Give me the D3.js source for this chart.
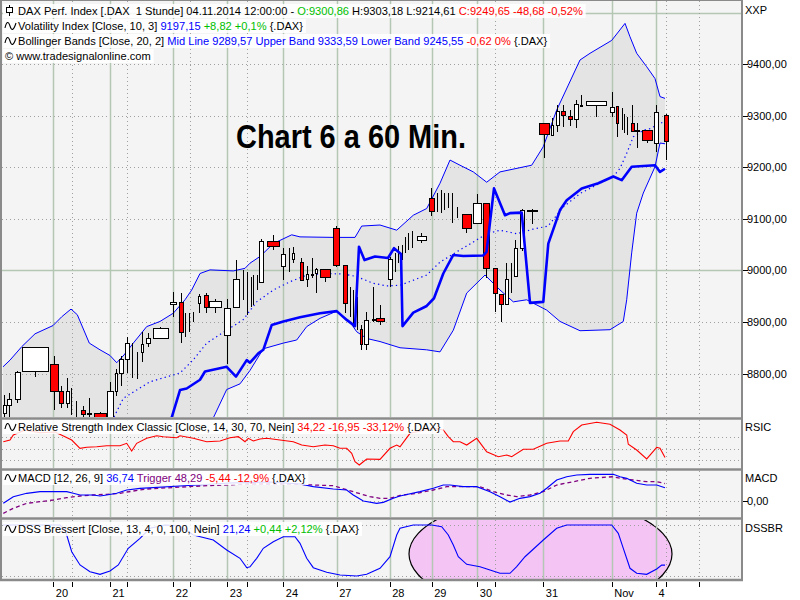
<!DOCTYPE html>
<html><head><meta charset="utf-8">
<script src="https://cdn.jsdelivr.net/npm/d3@7"></script>
<style>body{margin:0;background:#fff}svg{display:block}text{font-family:"Liberation Sans",Arial,sans-serif}</style>
</head><body><svg id="c" width="800" height="600"></svg>
<script>
// ---------- DATA ----------
// candles: [t, open, high, low, close, bodyWidth(t units)]
const candles = [
[0.8,8724,8759,8712,8739,0.6],[1.86,8739,8762,8716,8751,0.8],[3.46,8751,8805,8743,8803,1.0],[6.9,8805,8852,8793,8852,5.2],
[10.76,8819,8834,8729,8766,1.6],[12.26,8766,8776,8733,8743,0.8],[13.3,8743,8791,8733,8766,0.6],[14.2,8745,8772,8720,8745,0],
[15.2,8730,8747,8712,8730,0],[16.66,8729,8737,8712,8722,0.8],[17.8,8724,8753,8716,8724,0.8],[19.94,8724,8726,8712,8716,2.4],
[22.06,8712,8784,8712,8766,1.2],[23.26,8766,8809,8757,8801,0.4],[24.26,8801,8834,8776,8828,0.8],[25.46,8828,8871,8801,8859,0.8],
[26.46,8825,8859,8791,8825,0],[27.34,8815,8842,8789,8815,0],[28.34,8842,8881,8822,8857,0.4],[29.5,8859,8879,8852,8869,0.8],
[31.9,8869,8890,8867,8888,3.0],[34.64,8935,8958,8910,8939,1.2],[36.1,8939,8956,8859,8881,0.8],[37.06,8895,8917,8871,8895,0],
[37.8,8900,8917,8881,8900,0],[38.54,8910,8919,8900,8910,0],[39.86,8937,8954,8917,8950,0.4],[41.1,8952,8956,8917,8929,0.8],
[43.06,8929,8945,8917,8941,2.4],[45.46,8875,8945,8819,8927,1.2],[47.24,8929,9020,8929,8983,1.2],[48.54,8970,9001,8943,8970,0],
[49.34,8955,8997,8914,8955,0],[50.14,8958,8987,8929,8958,0],[50.66,8962,8991,8933,8962,0],[51.34,8976,8991,8962,8976,0],
[52.26,8977,9060,8977,9057,0.8],[54.5,9057,9069,9040,9047,2.4],[56.66,9008,9043,8981,9032,0.8],[57.86,9020,9043,8997,9020,0],
[58.66,9022,9045,9014,9034,0.4],[60.26,9016,9024,8981,8981,0.6],[61.3,8983,9008,8968,8993,0.4],[62.34,8993,9024,8985,8993,0.4],
[63.3,8995,9005,8956,9003,0.4],[65.1,9003,9003,8977,8987,2.0],[67.24,9082,9086,9007,9010,1.2],[68.9,9010,9010,8917,8937,0.8],
[70.0,8940,8968,8910,8940,0],[70.66,8925,8962,8890,8925,0],[71.34,8915,8948,8885,8915,0],[72.1,8886,8894,8846,8857,0.4],
[73.24,8857,8919,8846,8904,0.8],[74.54,8906,8968,8900,8906,0.6],[76.1,8908,8933,8894,8902,1.6],[77.9,8983,9026,8968,9022,0.8],
[79.0,9015,9034,8997,9015,0],[79.66,9030,9047,9014,9030,0],[80.34,9035,9049,9020,9035,0],[81.0,9050,9065,9034,9050,0],
[81.66,9056,9072,9040,9056,0],[82.34,9060,9076,9043,9060,0],[84.26,9059,9072,9053,9067,1.8],[86.26,9140,9160,9105,9115,1.0],
[87.46,9131,9150,9113,9131,0],[88.2,9133,9156,9111,9133,0],[88.86,9133,9150,9117,9133,0],[89.66,9135,9150,9121,9135,0],
[90.46,9121,9150,9092,9121,0],[91.46,9112,9123,9101,9112,0],[93.26,9109,9109,9072,9082,1.8],[95.44,9092,9148,9092,9131,1.6],
[97.26,9131,9131,8985,9005,1.2],[98.94,9005,9005,8919,8956,0.8],[100.26,8954,8954,8900,8935,0.8],[101.26,8935,9014,8935,8983,0.6],
[102.14,8985,9014,8956,8985,0],[103.06,8989,9059,8989,9043,0.6],[104.36,9043,9119,9038,9117,0.8],[106.3,9117,9119,9090,9118,2.0],
[108.74,9286,9286,9218,9264,2.0],[110.44,9262,9295,9262,9282,0.4],[111.44,9282,9321,9268,9309,0.6],[112.64,9309,9321,9278,9301,0.8],
[113.9,9299,9311,9280,9293,0.8],[115.14,9293,9330,9276,9322,0.8],[116.14,9320,9340,9319,9321,0.4],[119.26,9321,9328,9297,9328,4.0],
[122.3,9307,9346,9297,9317,0.8],[123.3,9319,9319,9258,9286,0.4],[124.34,9290,9315,9272,9290,0],[124.86,9285,9303,9266,9285,0],
[125.34,9280,9297,9262,9280,0],[126.46,9286,9321,9270,9270,0.6],[127.44,9272,9286,9237,9271,0.8],[129.3,9272,9272,9247,9253,2.0],
[131.1,9247,9321,9229,9307,0.8],[133.1,9300.86,9303.18,9214.61,9249.65,0.8]
];
// Volatility Index [Close,10,3]
const volIndex = [
[33.6,8691],[36,8768],[37.34,8771],[40,8788],[41,8804],[45.34,8813],[47.2,8794],[49.34,8826],[50,8821],[51.66,8839],[52.66,8846],
[54.34,8894],[56.66,8901],[60,8909],[64,8917],[67.34,8921],[69.34,8904],[71,8892],[71.8,9046],[72.9,9020],[75,9027],[77.6,9024],
[78.8,9043],[80.2,9032],[80.5,8892],[82.66,8918],[85.34,8931],[86.8,8946],[88.66,8994],[90.66,9030],[92.66,9028],[96.66,9029],
[97.3,9036],[98.8,9159],[101,9107],[102,9111],[104.34,9112],[106,8937],[108.66,8939],[109.66,9052],[112,9117],[113.34,9136],
[116.34,9159],[119.66,9169],[122.66,9182],[124.34,9175],[126.34,9201],[131,9204],[132,9191],[133,9197.15]
];
// Bollinger Bands [Close,20,2]
const upperBand = [
[0.6,8813],[2,8826],[4.34,8852],[7,8877],[10.6,8893],[12.34,8910],[14.2,8925],[15.46,8914],[17.86,8859],[20,8846],[22,8835],
[23.34,8821],[24.8,8836],[26.66,8859],[29.34,8891],[32,8901],[34.66,8917],[37,8943],[38.34,8962],[40,8994],[42,9001],[46.66,8999],
[49,9004],[50,9014],[52,9027],[54.66,9052],[58.34,9069],[60,9065],[66.66,9064],[71,9064],[72.34,9086],[76,9088],[79.34,9078],
[82.66,9107],[85.34,9120],[88,9169],[90,9214],[92,9204],[94.66,9191],[97.34,9171],[100,9191],[106.34,9204],[108.66,9240],
[111.34,9311],[116,9408],[118,9421],[122.34,9446],[125,9479],[126,9453],[127.34,9421],[129.34,9395],[131,9372],[132,9337],[133,9333.59]
];
const lowerBand = [
[0.6,8560],[20,8560],[30,8600],[40,8650],[42.66,8714],[45.34,8769],[48,8780],[50,8806],[52.66,8848],[56.66,8859],[59.34,8865],
[61.34,8891],[64,8907],[67.34,8921],[70,8900],[71.34,8881],[73.34,8868],[76,8862],[80,8850],[85.34,8846],[88,8842],[90.66,8884],
[93.34,8956],[97,8991],[100,8962],[102.66,8939],[105.34,8943],[109.34,8923],[112,8901],[116,8883],[122,8885],[124.66,8901],
[125.34,8943],[126.34,9034],[127.34,9111],[128.66,9150],[131,9201],[132,9247],[133,9245.55]
];
const midLine = [
[22,8700],[24.66,8752],[30,8784],[36,8801],[38.6,8826],[41.34,8859],[45.34,8884],[48.6,8904],[51.34,8939],[54.66,8962],[58,8978],
[61.34,8991],[65.34,8994],[68.66,8993],[71.34,8988],[74.66,8975],[77.34,8970],[80,8971],[82.66,8981],[85.34,8991],[88,9016],
[91.34,9036],[94.66,9055],[97.34,9071],[100,9078],[103.34,9071],[106.6,9080],[109.6,9086],[112.66,9123],[116,9149],[120,9169],
[122.66,9182],[124,9198],[125.34,9227],[126.66,9259],[128.66,9272],[130,9275],[133,9289.57]
];
// RSI [Close,14,30,70]
const rsi = [
[0.66,62.2],[2,65.2],[2.66,74.1],[5,83],[8,78],[11,79.4],[13,71.1],[14.34,65.2],[16,50.6],[17.34,52.4],[19.34,53.4],[21.34,55.2],
[24,55.2],[25.34,59.4],[26.34,45.9],[27.34,59.4],[29.34,68.2],[31.34,72.8],[32.66,71.1],[35.34,69.3],[36,72.8],[38.66,68.2],
[41.34,62.2],[44,63.5],[46,69.3],[47.66,71.1],[49,62.2],[49.66,68.2],[50.66,63.5],[52,67.0],[53.34,68.2],[56,65.2],[58.66,62.2],
[60.34,56.4],[62.66,53.4],[65,56.4],[66.66,55.2],[68,50.6],[69.34,50.6],[70.34,41.8],[71,27.0],[71.86,21.2],[72.66,27.0],
[73.34,31.8],[76,31.2],[78,50.6],[79.34,56.4],[80,53.4],[82,77.0],[86.6,85.9],[88.66,82.9],[89.66,71.1],[90.66,62.2],[92,62.2],
[93.34,56.4],[95.34,68.2],[97.34,44.6],[99.66,35.8],[101.34,38.8],[102.34,35.8],[104.66,48.9],[106.66,48.9],[109.34,59.4],
[112,63.5],[113.66,63.5],[114.66,79.9],[116.34,91.7],[119.34,96.4],[122,92.9],[124,82.9],[125.34,74.1],[125.66,57.7],
[127.34,47.6],[129.34,31.8],[131.34,52.4],[132,50.6],[133,34.22]
];
// MACD [12,26,9]
const macd = [
[0.66,-6.4],[2.66,11.9],[5.34,21.3],[8,25.7],[13.34,25.7],[14.66,21.3],[16,16.6],[18.66,16.6],[20,13.8],[21.34,16.6],[23.34,21.3],
[25.34,30.4],[28,35.1],[36,41.4],[46,49.7],[54,52.5],[60,47],[62.66,39.5],[66.66,33.1],[69.34,30.4],[70.66,16.6],[72.66,0],
[75.34,-6.4],[76.66,-3.6],[78.66,7.5],[80,13.8],[84,25.7],[86.66,35.1],[88.66,44.2],[90,44.2],[92.66,39.5],[95.34,39.5],[98,25.7],
[100,11.9],[102,-3],[104,7.5],[106,11.9],[108,21.3],[109.34,35.1],[111.34,58],[113.34,67.1],[115.34,71.8],[118,73.8],[122.66,73.8],
[124,67.1],[125.34,62.7],[127.34,48.9],[129.34,44.2],[131.34,44.2],[133,36.74]
];
const trigger = [
[0.66,-34],[2.66,-20.2],[5.34,-6.4],[8,-1.9],[10.66,2.8],[13.34,9.1],[16,13.8],[18.66,16.6],[21.34,18.5],[24,21.3],[26.66,27.6],
[29.34,33.1],[40,41.4],[50,47],[58,47],[62.66,44.2],[66.66,42.3],[70.66,25.7],[74,11.9],[76,7.5],[78,7.5],[80,15.2],[83.34,21.3],
[86.66,30.4],[89.34,39.5],[93.34,39.5],[96,39.5],[98.66,25.7],[101.34,16.6],[103.34,11.9],[106,16.6],[108.66,25.7],[111.34,44.2],
[114.66,53.3],[118,62.7],[122.66,67.1],[124,62.7],[126.66,58],[129.34,53.3],[131.34,53.3],[133,48.29]
];
// DSS Bressert [Close,13,4]
const dss = [
[0.6,100],[12,100],[13,90.2],[13.34,80.4],[14.34,47.6],[16,21.6],[18,8.4],[20,3.3],[22,9.8],[23.66,21.6],[25.66,54.3],[28,73.9],
[30,93.5],[33,100],[36,98],[38.66,80.4],[42.66,70.6],[45.34,51],[48,34.7],[49.34,16.3],[50,18.2],[51.34,34.7],[52.66,54.3],
[54.66,67.3],[56.66,77.1],[59,77.1],[60,64.1],[61.34,34.7],[62.66,16.3],[65.34,7.3],[68,2],[71.34,0],[73.34,3.3],[76,15.1],
[78,37.8],[79.34,80.4],[80,93.5],[82.66,100],[86.34,100],[88.34,96.7],[89.66,80.4],[90.66,60.8],[91.66,37.8],[93.34,22.9],
[96,18.2],[98,11.8],[100,5.3],[102,5.3],[103.34,18.2],[105,37.8],[108.66,70.6],[111.34,93.5],[113.34,100],[122.34,100],
[123.66,83.7],[124.66,54.3],[126,15.1],[127.34,5.3],[129.34,3.3],[131.34,13.7],[132.34,21.6],[133,21.24]
];
// axis
const dayTicks = [[10.66,"20"],[22,"21"],[34.66,"22"],[45.46,"23"],[56.66,"24"],[67.34,"27"],[77.94,"28"],[86.34,"29"],[95.46,"30"],[108.66,"31"],[122.34,"Nov"],[131.2,"4"]];
const minorTicks = [14.34,25.46,38,49.34,99,133.14,139.86];
const priceTicks = [8800,8900,9000,9100,9200,9300,9400];
const priceSolid = [9000,9500];
const rsiLevels = [30,50,70];
const dssLevels = [0,100];

// ---------- SETUP ----------
const svg = d3.select("#c");
const L = 2, R = 742;
const P = {main:[1,417], rsi:[420,468], macd:[471,517], dss:[520,579]};
const x = d3.scaleLinear().domain([0,148]).range([0,740]);
const yP = d3.scaleLinear().domain([9000,9300]).range([270.4,115.7]);
const yR = d3.scaleLinear().domain([30,70]).range([460,437.3]);
const yM = d3.scaleLinear().domain([0,50]).range([501,482.9]);
const yD = d3.scaleLinear().domain([0,100]).range([576,525]);
const de = d3.formatLocale({decimal:",",thousands:"",grouping:[3],currency:["",""]});
const fmt2 = de.format(".2f");
const C = {blue:"#0000ff",red:"#ff0000",green:"#00c000",purple:"#800080",black:"#000"};
const gridSolid = "#b4c6b4", gridDot = "#a0a0a0";

const defs = svg.append("defs");
function clip(id,[y0,y1]){defs.append("clipPath").attr("id",id).append("rect").attr("x",L).attr("y",y0).attr("width",R-L).attr("height",y1-y0);return `url(#${id})`;}

svg.append("rect").attr("width",800).attr("height",600).attr("fill","#fff");

function panel(key){
  const [y0,y1]=P[key];
  const g = svg.append("g").attr("clip-path",clip("clip-"+key,P[key]));
  g.append("rect").attr("x",L).attr("y",y0).attr("width",R-L).attr("height",y1-y0).attr("fill","#f4f4f4");
  return g;
}
function vgrid(g,[y0,y1]){
  g.append("g").selectAll("line").data(minorTicks).join("line")
   .attr("x1",d=>Math.round(x(d))+0.5).attr("x2",d=>Math.round(x(d))+0.5).attr("y1",y0).attr("y2",y1)
   .attr("stroke",gridDot).attr("stroke-dasharray","1,3");
  g.append("g").selectAll("line").data(dayTicks).join("line")
   .attr("x1",d=>Math.round(x(d[0]))+0.5).attr("x2",d=>Math.round(x(d[0]))+0.5).attr("y1",y0).attr("y2",y1)
   .attr("stroke",gridSolid).attr("stroke-width",1.5);
}
function hgrid(g,vals,scale,solid){
  g.append("g").selectAll("line").data(vals).join("line")
   .attr("x1",L).attr("x2",R).attr("y1",d=>Math.round(scale(d))+0.5).attr("y2",d=>Math.round(scale(d))+0.5)
   .attr("stroke",solid?gridSolid:gridDot).attr("stroke-width",solid?1.5:1).attr("stroke-dasharray",solid?null:"1,3");
}
const lineGen = (ys)=>d3.line().x(d=>x(d[0])).y(d=>ys(d[1]));

// ---------- MAIN ----------
const gm = panel("main");
const bandPts = upperBand.map(d=>[x(d[0]),yP(d[1])]).concat(lowerBand.slice().reverse().map(d=>[x(d[0]),yP(d[1])]));
gm.append("path").attr("d",d3.line()(bandPts)+"Z").attr("fill","#e4e4e4");
hgrid(gm,priceTicks.filter(v=>!priceSolid.includes(v)),yP,false);
hgrid(gm,priceSolid,yP,true);
vgrid(gm,P.main);
gm.append("path").datum(upperBand).attr("d",lineGen(yP)).attr("fill","none").attr("stroke",C.blue).attr("stroke-width",1);
gm.append("path").datum(lowerBand).attr("d",lineGen(yP)).attr("fill","none").attr("stroke",C.blue).attr("stroke-width",1);
gm.append("path").datum(midLine).attr("d",lineGen(yP)).attr("fill","none").attr("stroke",C.blue).attr("stroke-width",1.2).attr("stroke-dasharray","1.3,3.2");
const cg = gm.append("g").attr("shape-rendering","crispEdges");
cg.selectAll("line").data(candles).join("line")
  .attr("x1",d=>Math.round(x(d[0]))+0.5).attr("x2",d=>Math.round(x(d[0]))+0.5)
  .attr("y1",d=>yP(d[2])).attr("y2",d=>yP(d[3])).attr("stroke","#000");
cg.selectAll("rect").data(candles.filter(d=>d[5]>0)).join("rect")
  .each(function(d){
    const w = Math.max(2, Math.round(x(d[5])-x(0)));
    const cx = Math.round(x(d[0]));
    const top = yP(Math.max(d[1],d[4])), bot = yP(Math.min(d[1],d[4]));
    d3.select(this).attr("x",cx-Math.floor(w/2)+0.5).attr("width",w).attr("y",Math.round(top)+0.5)
      .attr("height",Math.max(0.5,Math.round(bot-top)))
      .attr("fill",d[4]>=d[1]?"#fff":C.red).attr("stroke","#000");
  });
gm.append("path").datum(volIndex).attr("d",lineGen(yP)).attr("fill","none").attr("stroke",C.blue).attr("stroke-width",2.6).attr("stroke-linejoin","round");

gm.append("text").attr("x",236).attr("y",148).text("Chart 6 a 60 Min.")
  .attr("textLength",230).attr("lengthAdjust","spacingAndGlyphs")
  .style("font-family","'Liberation Sans',Arial,sans-serif").style("font-weight","bold").style("font-size","33px").attr("fill","#000");

// ---------- RSI ----------
const gr = panel("rsi");
hgrid(gr,rsiLevels,yR,false);
vgrid(gr,P.rsi);
gr.append("path").datum(rsi).attr("d",lineGen(yR)).attr("fill","none").attr("stroke",C.red).attr("stroke-width",1.1);

// ---------- MACD ----------
const gq = panel("macd");
hgrid(gq,[0],yM,false);
vgrid(gq,P.macd);
gq.append("path").datum(trigger).attr("d",lineGen(yM)).attr("fill","none").attr("stroke",C.purple).attr("stroke-width",1.3).attr("stroke-dasharray","4,3");
gq.append("path").datum(macd).attr("d",lineGen(yM)).attr("fill","none").attr("stroke",C.blue).attr("stroke-width",1.2);

// ---------- DSS ----------
const gd = panel("dss");
gd.append("ellipse").attr("cx",x(108.1)).attr("cy",yD(43)).attr("rx",x(26.3)-x(0)).attr("ry",yD(0)-yD(110))
  .attr("fill","#f4c4f4").attr("stroke","#000").attr("stroke-width",1.2);
hgrid(gd,dssLevels,yD,false);
vgrid(gd,P.dss);
gd.append("path").datum(dss).attr("d",lineGen(yD)).attr("fill","none").attr("stroke",C.blue).attr("stroke-width",1.1);

// ---------- FRAMES ----------
const fr = svg.append("g").attr("fill","none").attr("stroke","#8a8a8a");
fr.append("line").attr("x1",L-1).attr("x2",L-1).attr("y1",0).attr("y2",581).attr("stroke-width",2);
fr.append("line").attr("x1",R).attr("x2",R).attr("y1",0).attr("y2",581).attr("stroke-width",2);
fr.append("line").attr("x1",0).attr("x2",R+1).attr("y1",0.5).attr("y2",0.5).attr("stroke-width",1);
[418.5,469.5,518.5,580].forEach(y=>fr.append("line").attr("x1",0).attr("x2",R+1).attr("y1",y).attr("y2",y).attr("stroke-width",2.5));

// ---------- RIGHT AXIS ----------
const ax = svg.append("g").style("font-size","11px").attr("fill","#000");
ax.selectAll("line.pt").data(priceTicks).join("line").attr("x1",R+1).attr("x2",R+6)
  .attr("y1",d=>Math.round(yP(d))+0.5).attr("y2",d=>Math.round(yP(d))+0.5).attr("stroke","#000");
ax.selectAll("text.pt").data(priceTicks).join("text").attr("x",747).attr("y",d=>yP(d)+4).text(d=>fmt2(d));
ax.append("line").attr("x1",R+1).attr("x2",R+6).attr("y1",Math.round(yM(0))+0.5).attr("y2",Math.round(yM(0))+0.5).attr("stroke","#000");
ax.append("text").attr("x",747).attr("y",yM(0)+4).text(fmt2(0));
[["XXP",14],["RSIC",431],["MACD",482],["DSSBR",532]].forEach(([t,y])=>ax.append("text").attr("x",745).attr("y",y).text(t));

// ---------- X AXIS ----------
const xa = svg.append("g").style("font-size","11px");
xa.selectAll("line").data(dayTicks.map(d=>d[0]).concat(minorTicks)).join("line")
  .attr("x1",d=>Math.round(x(d))+0.5).attr("x2",d=>Math.round(x(d))+0.5).attr("y1",582).attr("y2",587).attr("stroke","#000");
xa.selectAll("text").data(dayTicks).join("text").attr("x",d=>x(d[0])+2.5).attr("y",597).text(d=>d[1]).attr("fill","#000");

// ---------- LEGENDS ----------
function legend(y, parts, icon){
  const g = svg.append("g");
  const bg = g.append("rect");
  const t = g.append("text").attr("x",18).attr("y",y).style("font-size","11.1px").style("white-space","pre").attr("xml:space","preserve");
  parts.forEach(([s,c])=>t.append("tspan").attr("fill",c).text(s));
  const w = t.node().getComputedTextLength();
  bg.attr("x",3).attr("y",y-11).attr("width",w+18).attr("height",14).attr("fill","#fff").attr("opacity",0.85);
  if(icon==="wave"){
    g.append("path").attr("d",`M5,${y-2} C6.5,${y-9} 8.5,${y-9} 10,${y-4} S13.5,${y+1} 16,${y-7}`).attr("fill","none").attr("stroke","#000").attr("stroke-width",1.1);
  } else if(icon==="candle"){
    g.append("line").attr("x1",9.5).attr("x2",9.5).attr("y1",y-10).attr("y2",y+1).attr("stroke","#000");
    g.append("rect").attr("x",6.5).attr("y",y-7.5).attr("width",6).attr("height",5).attr("fill","#fff").attr("stroke","#000");
  }
  return g;
}
legend(15,[["DAX Perf. Index [.DAX  1 Stunde] 04.11.2014 12:00:00 - ",C.black],["O:9300,86",C.green],[" H:9303,18 L:9214,61 ",C.black],["C:9249,65 -48,68 -0,52%",C.red]],"candle");
legend(30,[["Volatility Index [Close, 10, 3] ",C.black],["9197,15",C.blue],[" +8,82 +0,1%",C.green],[" {.DAX}",C.black]],"wave");
legend(45,[["Bollinger Bands [Close, 20, 2] ",C.black],["Mid Line 9289,57 Upper Band 9333,59 Lower Band 9245,55",C.blue],[" -0,62 0%",C.red],[" {.DAX}",C.black]],"wave");
{ const g = svg.append("g"); const t = g.append("text").attr("x",5).attr("y",60).style("font-size","11.1px").text("© www.tradesignalonline.com");
  const w=t.node().getComputedTextLength(); g.insert("rect","text").attr("x",3).attr("y",49).attr("width",w+5).attr("height",14).attr("fill","#fff").attr("opacity",0.85); }
legend(431,[["Relative Strength Index Classic [Close, 14, 30, 70, Nein] ",C.black],["34,22 -16,95 -33,12%",C.red],[" {.DAX}",C.black]],"wave");
legend(482,[["MACD [12, 26, 9] ",C.black],["36,74",C.blue],[" Trigger 48,29",C.purple],[" -5,44 -12,9%",C.red],[" {.DAX}",C.black]],"wave");
legend(533,[["DSS Bressert [Close, 13, 4, 0, 100, Nein] ",C.black],["21,24",C.blue],[" +0,44 +2,12%",C.green],[" {.DAX}",C.black]],"wave");
</script></body></html>
